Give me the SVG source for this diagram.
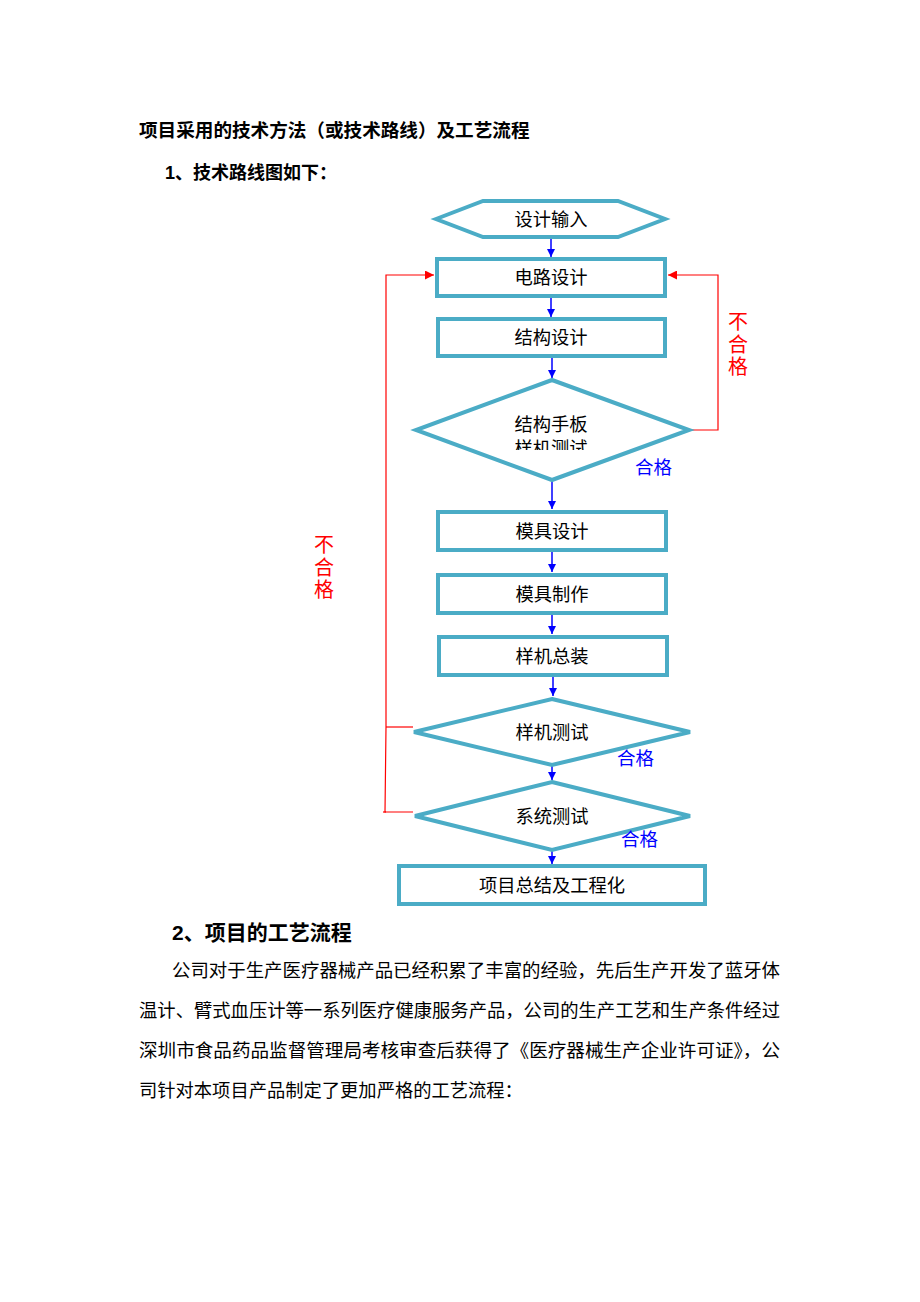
<svg xmlns="http://www.w3.org/2000/svg" width="920" height="1302" viewBox="0 0 920 1302">
<style>
.doc{font-family:"Liberation Serif","Noto Sans CJK SC",serif;fill:#000}
.hd{font-family:"Liberation Sans","Noto Sans CJK SC",sans-serif;font-weight:bold;fill:#000}
.nd{fill:#fff;stroke:#4bacc6;stroke-width:4}
.nt{font-family:"Liberation Sans","Noto Sans CJK SC",sans-serif;font-size:18.3px;fill:#000;text-anchor:middle;dominant-baseline:central}
.ok{font-family:"Liberation Sans","Noto Sans CJK SC",sans-serif;font-size:18.5px;fill:#0000ff}
.ng{font-family:"Liberation Sans","Noto Sans CJK SC",sans-serif;font-size:20px;fill:#ff0000;text-anchor:middle}
.b{stroke:#0000ff;stroke-width:1.5;fill:none;marker-end:url(#ab)}
.r{stroke:#ff0000;stroke-width:1.2;fill:none}
.ra{stroke:#ff0000;stroke-width:1.2;fill:none;marker-end:url(#ar)}
</style>
<defs>
<marker id="ab" viewBox="0 0 10 10" refX="10" refY="5" markerWidth="8" markerHeight="8" markerUnits="userSpaceOnUse" orient="auto"><path d="M0,0 L10,5 L0,10 z" fill="#0000ff"/></marker>
<marker id="ar" viewBox="0 0 10 10" refX="10" refY="5" markerWidth="9" markerHeight="9" markerUnits="userSpaceOnUse" orient="auto"><path d="M0,0 L10,5 L0,10 z" fill="#ff0000"/></marker>
<clipPath id="clipd"><rect x="400" y="380" width="300" height="70"/></clipPath>
</defs>
<rect width="920" height="1302" fill="#fff"/>

<g id="header">
<text class="hd" x="139" y="137" font-size="18.6">项目采用的技术方法（或技术路线）及工艺流程</text>
<text class="hd" x="165" y="179" font-size="18">1、技术路线图如下：</text>
</g>

<g id="connectors">
<line class="b" x1="551" y1="238" x2="551" y2="257"/>
<line class="b" x1="551" y1="297" x2="551" y2="317"/>
<line class="b" x1="552" y1="357" x2="552" y2="378"/>
<line class="b" x1="552" y1="481" x2="552" y2="509"/>
<line class="b" x1="552" y1="551" x2="552" y2="572"/>
<line class="b" x1="552" y1="614" x2="552" y2="634"/>
<line class="b" x1="553" y1="676" x2="553" y2="696"/>
<line class="b" x1="552" y1="758" x2="552" y2="780"/>
<line class="b" x1="552" y1="843" x2="552" y2="864"/>
<polyline class="ra" points="692,430 718,430 718,275 668,275"/>
<polyline class="ra" points="386,727 386,275 434,275"/>
<line class="r" x1="386" y1="727" x2="413" y2="727"/>
<polyline class="r" points="386,727 385,812 413,812"/>
<line class="r" x1="383" y1="812" x2="386" y2="812"/>
</g>

<g id="n1">
<polygon class="nd" points="436,219 483,201 618,201 665,219 618,237 483,237"/>
<text class="nt" x="551" y="219">设计输入</text>
</g>
<g id="n2">
<rect class="nd" x="437" y="259" width="228" height="37"/>
<text class="nt" x="551" y="277">电路设计</text>
</g>
<g id="n3">
<rect class="nd" x="438" y="319" width="227" height="37"/>
<text class="nt" x="551" y="337">结构设计</text>
</g>
<g id="n4">
<polygon class="nd" points="552,380 689,430 552,480 416,430"/>
<text class="nt" x="551" y="424">结构手板</text>
<text class="nt" x="551" y="448" clip-path="url(#clipd)">样机测试</text>
</g>
<g id="n5">
<rect class="nd" x="438" y="512" width="228" height="38"/>
<text class="nt" x="552" y="531">模具设计</text>
</g>
<g id="n6">
<rect class="nd" x="438" y="575" width="228" height="38"/>
<text class="nt" x="552" y="594">模具制作</text>
</g>
<g id="n7">
<rect class="nd" x="439" y="637" width="228" height="38"/>
<text class="nt" x="552" y="656">样机总装</text>
</g>
<g id="n8">
<polygon class="nd" points="552,699 690,732 552,765 414,732"/>
<text class="nt" x="552" y="732">样机测试</text>
</g>
<g id="n9">
<polygon class="nd" points="552,782 690,816 552,850 415,816"/>
<text class="nt" x="552" y="816">系统测试</text>
</g>
<g id="n10">
<rect class="nd" x="399" y="866" width="306" height="38"/>
<text class="nt" x="552" y="885">项目总结及工程化</text>
</g>

<g id="labels">
<text class="ok" x="635" y="474">合格</text>
<text class="ok" x="617" y="765">合格</text>
<text class="ok" x="621" y="846">合格</text>
<text class="ng" x="738" y="329">不</text>
<text class="ng" x="738" y="352">合</text>
<text class="ng" x="738" y="374">格</text>
<text class="ng" x="324" y="552">不</text>
<text class="ng" x="324" y="575">合</text>
<text class="ng" x="324" y="597">格</text>
</g>

<g id="section2">
<text class="hd" x="172" y="940" font-size="21">2、项目的工艺流程</text>
<text class="doc" x="172" y="977" font-size="18.3" textLength="608" lengthAdjust="spacingAndGlyphs">公司对于生产医疗器械产品已经积累了丰富的经验，先后生产开发了蓝牙体</text>
<text class="doc" x="139" y="1017" font-size="18.3" textLength="641" lengthAdjust="spacingAndGlyphs">温计、臂式血压计等一系列医疗健康服务产品，公司的生产工艺和生产条件经过</text>
<text class="doc" x="139" y="1057" font-size="18.3" textLength="641" lengthAdjust="spacingAndGlyphs">深圳市食品药品监督管理局考核审查后获得了《医疗器械生产企业许可证》，公</text>
<text class="doc" x="139" y="1097" font-size="18.3">司针对本项目产品制定了更加严格的工艺流程：</text>
</g>
</svg>
